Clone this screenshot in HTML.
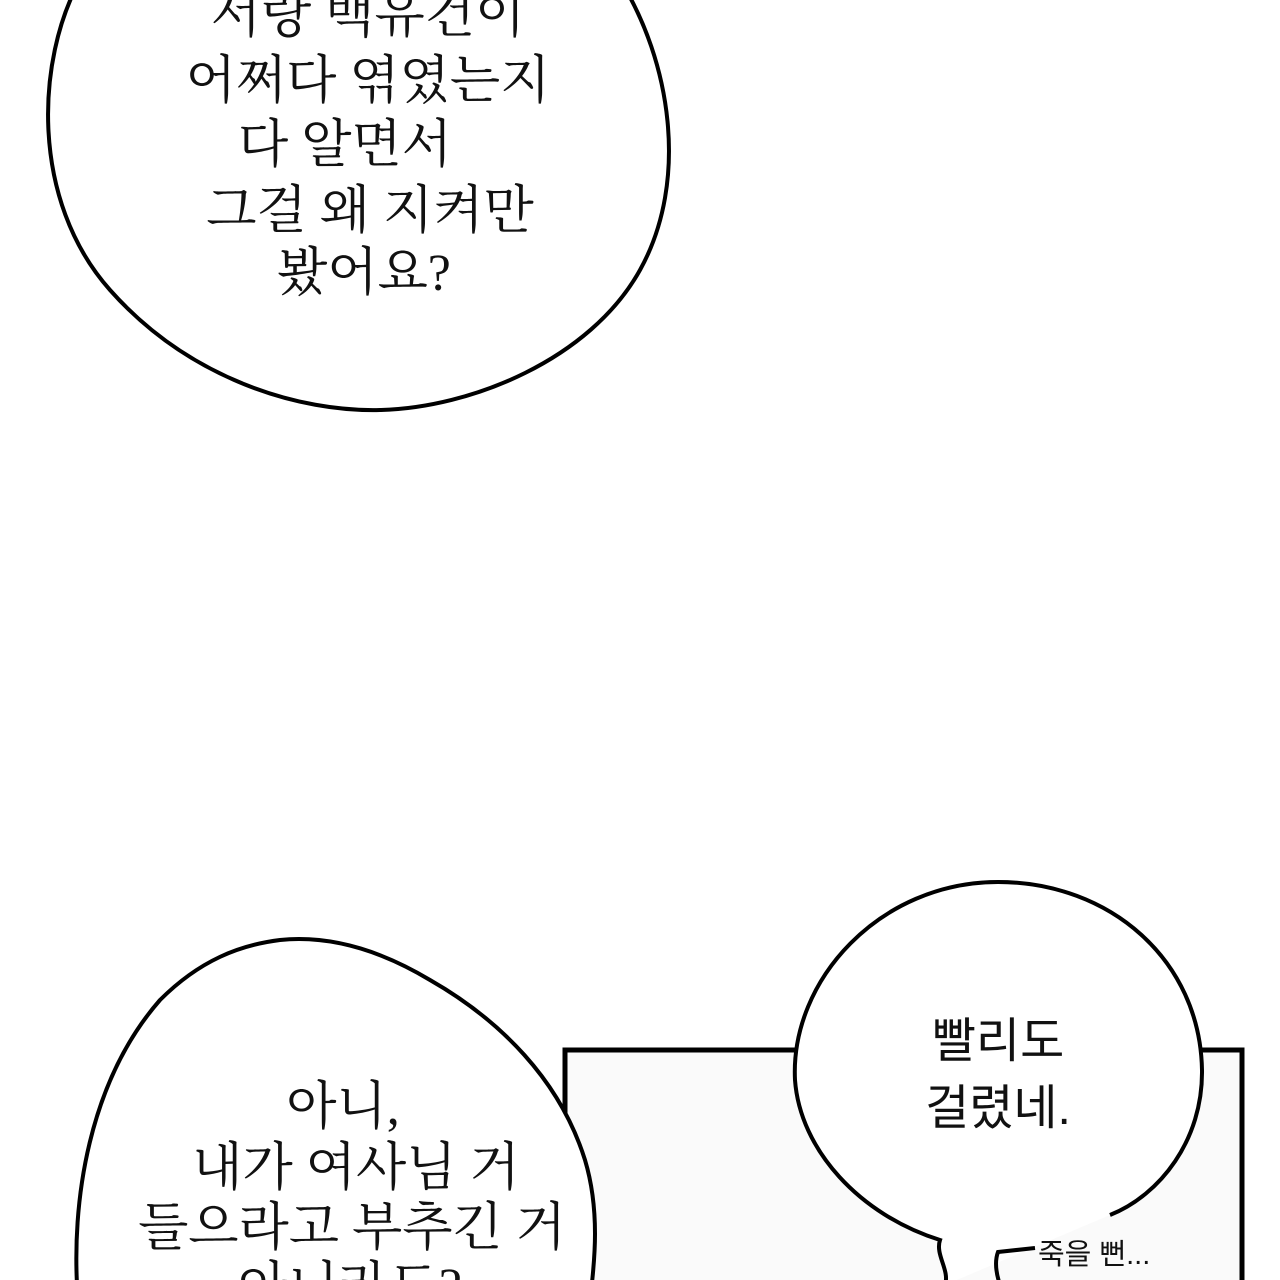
<!DOCTYPE html>
<html><head><meta charset="utf-8"><style>
html,body{margin:0;padding:0;background:#fff;}
svg{display:block;}
.s{font-family:"Liberation Serif","Noto Serif CJK SC",serif;font-size:52px;fill:#111;text-anchor:middle;}
.g{font-family:"Liberation Sans","Noto Sans CJK KR",sans-serif;font-size:48px;fill:#111;text-anchor:middle;}
</style></head><body>
<svg width="1280" height="1280" viewBox="0 0 1280 1280" xmlns="http://www.w3.org/2000/svg">
<rect width="1280" height="1280" fill="#fff"/>
<rect x="565" y="1050" width="677" height="240" fill="#fafafa" stroke="#000" stroke-width="5"/>
<path d="M80,-20 C36,60 30,200 110,290 C190,380 300,412 380,410 C470,408 590,360 640,270 C690,180 670,60 620,-20 Z" fill="#fff" stroke="#000" stroke-width="4"/>
<text class="s" x="368" y="32">서랑 백유건이</text>
<text class="s" x="368" y="98">어쩌다 엮였는지</text>
<text class="s" x="345" y="162">다 알면서</text>
<text class="s" x="370" y="228">그걸 왜 지켜만</text>
<text class="s" x="364" y="290">봤어요?</text>
<path d="M78,1300 C70,1200 90,1080 160,1000 C200,960 240,945 280,940 C330,935 380,950 430,980 C500,1020 560,1080 585,1160 C600,1210 595,1260 590,1300 Z" fill="#fff" stroke="#000" stroke-width="4"/>
<text class="s" x="343" y="1124">아니,</text>
<text class="s" x="356" y="1185">내가 여사님 거</text>
<text class="s" x="352" y="1245">들으라고 부추긴 거</text>
<text class="s" x="350" y="1304">아니라도?</text>
<path d="M945,1285 C950,1270 935,1255 940,1240 C860,1215 800,1150 795,1080 C790,980 880,882 998,882 C1110,882 1200,960 1202,1070 C1203,1140 1160,1195 1110,1215" fill="#fff" stroke="#000" stroke-width="4"/>
<path d="M1000,1285 C995,1270 995,1260 998,1252 L1035,1248" fill="none" stroke="#000" stroke-width="4"/>
<text class="g" x="998" y="1057">빨리도</text>
<text class="g" x="998" y="1124">걸렸네.</text>
<text x="1038" y="1264" font-family="Liberation Sans,Noto Sans CJK KR,sans-serif" font-size="29" fill="#111">죽을 뻔...</text>
</svg>
</body></html>
